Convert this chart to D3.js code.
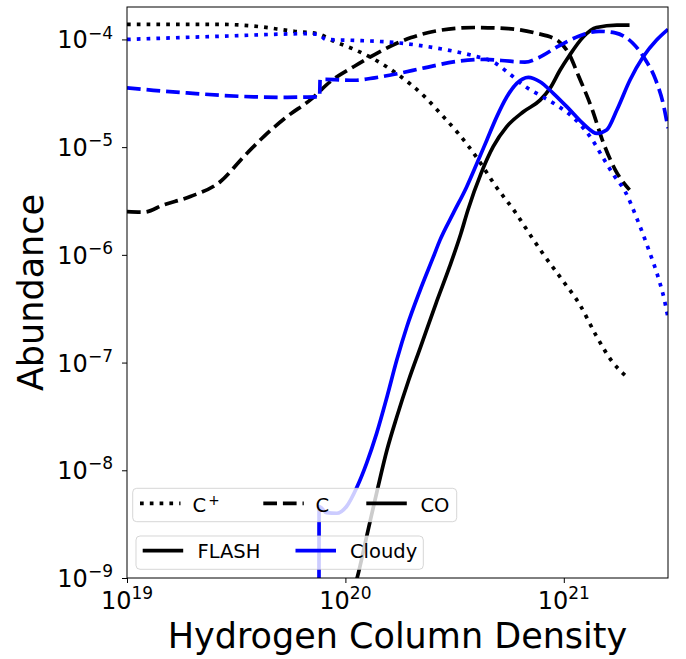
<!DOCTYPE html>
<html><head><meta charset="utf-8">
<script src="https://cdn.jsdelivr.net/npm/d3@7"></script>
<style>body{margin:0;background:#fff}svg{display:block}</style>
</head><body>
<svg id="chart" width="686" height="659"></svg>
<script>
// ---------------- data ----------------
const xDomain = [1e19, 3e21];
const yDomain = [1e-9, 2e-4];
const xMajorTicks = [1e19, 1e20, 1e21];
const xMajorExp = ["19", "20", "21"];
const yMajorTicks = [1e-9, 1e-8, 1e-7, 1e-6, 1e-5, 1e-4];
const yMajorExp = ["\u22129", "\u22128", "\u22127", "\u22126", "\u22125", "\u22124"];

// FLASH  C+
const flashCplusN = [1.0e19, 2.68e19, 3.81e19, 5.82e19, 7.45e19, 8.89e19, 1.10e20, 1.36e20, 1.74e20, 2.30e20, 2.84e20, 3.28e20, 4.06e20, 4.83e20, 5.97e20, 7.13e20, 8.07e20, 9.79e20, 1.19e21, 1.39e21, 1.66e21, 1.93e21];
const flashCplusA = [1.38e-4, 1.38e-4, 1.33e-4, 1.19e-4, 1.13e-4, 9.6e-5, 8.07e-5, 6.52e-5, 4.72e-5, 2.96e-5, 1.87e-5, 1.35e-5, 7.64e-6, 4.47e-6, 2.52e-6, 1.46e-6, 1.01e-6, 5.92e-7, 3.39e-7, 1.86e-7, 1.03e-7, 7.45e-8];
// FLASH  C
const flashCN = [1.0e19, 1.19e19, 1.47e19, 1.95e19, 2.68e19, 3.43e19, 4.24e19, 5.42e19, 6.93e19, 8.57e19, 1.10e20, 1.36e20, 1.74e20, 2.00e20, 2.56e20, 3.91e20, 5.57e20, 7.38e20, 9.46e20, 1.05e21, 1.17e21, 1.35e21, 1.50e21, 1.72e21, 2.00e21];
const flashCA = [2.52e-6, 2.49e-6, 2.91e-6, 3.48e-6, 4.80e-6, 8.19e-6, 1.26e-5, 1.93e-5, 2.76e-5, 4.09e-5, 5.64e-5, 7.24e-5, 9.31e-5, 1.04e-4, 1.19e-4, 1.29e-4, 1.26e-4, 1.15e-4, 9.64e-5, 7.51e-5, 4.55e-5, 2.23e-5, 1.17e-5, 6.16e-6, 4.01e-6];
// FLASH  CO
const flashCON = [1.08e20, 1.13e20, 1.25e20, 1.40e20, 1.55e20, 1.72e20, 1.95e20, 2.21e20, 2.60e20, 3.00e20, 3.38e20, 3.64e20, 4.18e20, 4.75e20, 5.48e20, 6.53e20, 7.79e20, 8.65e20, 9.62e20, 1.05e21, 1.23e21, 1.41e21, 1.75e21, 2.0e21];
const flashCOA = [7.26e-10, 9.9e-10, 2.41e-9, 6.56e-9, 1.54e-8, 3.14e-8, 6.89e-8, 1.40e-7, 3.55e-7, 7.76e-7, 1.58e-6, 2.61e-6, 5.71e-6, 1.01e-5, 1.55e-5, 2.13e-5, 2.73e-5, 3.52e-5, 5.20e-5, 6.87e-5, 1.06e-4, 1.29e-4, 1.36e-4, 1.36e-4];
// Cloudy C+
const cloudyCplusN = [1.0e19, 2.68e19, 6.70e19, 7.59e19, 8.13e19, 1.10e20, 1.74e20, 2.56e20, 3.28e20, 3.91e20, 4.83e20, 5.57e20, 6.64e20, 7.93e20, 9.46e20, 1.13e21, 1.35e21, 1.50e21, 1.69e21, 1.91e21, 2.18e21, 2.45e21, 2.73e21, 2.89e21, 3.0e21];
const cloudyCplusA = [1.0e-4, 1.07e-4, 1.13e-4, 1.11e-4, 1.0e-4, 9.8e-5, 9.3e-5, 8.37e-5, 7.62e-5, 7.0e-5, 6.07e-5, 4.90e-5, 3.67e-5, 2.96e-5, 2.39e-5, 1.80e-5, 1.17e-5, 8.19e-6, 5.53e-6, 3.87e-6, 2.08e-6, 1.11e-6, 5.82e-7, 3.79e-7, 2.6e-7];
// Cloudy C
const cloudyCN = [1.0e19, 1.32e19, 1.88e19, 2.68e19, 3.81e19, 5.42e19, 7.45e19, 7.62e19, 7.66e19, 8.0e19, 1.10e20, 1.36e20, 1.74e20, 2.30e20, 3.28e20, 4.35e20, 5.19e20, 6.64e20, 7.66e20, 9.46e20, 1.17e21, 1.45e21, 1.72e21, 2.06e21, 2.36e21, 2.63e21, 2.87e21, 3.0e21];
const cloudyCA = [3.55e-5, 3.37e-5, 3.19e-5, 3.03e-5, 2.93e-5, 2.90e-5, 2.93e-5, 2.93e-5, 4.25e-5, 4.25e-5, 4.18e-5, 4.40e-5, 4.82e-5, 5.45e-5, 6.28e-5, 6.52e-5, 6.37e-5, 6.15e-5, 6.76e-5, 8.67e-5, 1.07e-4, 1.19e-4, 1.15e-4, 9.31e-5, 6.52e-5, 4.25e-5, 2.39e-5, 1.5e-5];
// Cloudy CO
const cloudyCON = [7.56e19, 7.58e19, 8.20e19, 9.12e19, 1.01e20, 1.13e20, 1.25e20, 1.39e20, 1.55e20, 1.72e20, 1.91e20, 2.20e20, 2.53e20, 2.71e20, 3.12e20, 3.59e20, 3.99e20, 4.44e20, 4.93e20, 5.48e20, 6.09e20, 6.88e20, 7.78e20, 8.95e20, 1.05e21, 1.23e21, 1.42e21, 1.57e21, 1.75e21, 2.01e21, 2.31e21, 2.66e21, 3.0e21];
const cloudyCOA = [1e-11, 4.59e-9, 4.04e-9, 3.99e-9, 4.59e-9, 7.0e-9, 1.16e-8, 2.20e-8, 4.79e-8, 1.06e-7, 2.14e-7, 4.72e-7, 9.62e-7, 1.37e-6, 2.44e-6, 4.27e-6, 6.97e-6, 1.16e-5, 1.91e-5, 2.92e-5, 3.91e-5, 4.45e-5, 4.05e-5, 3.16e-5, 2.29e-5, 1.64e-5, 1.34e-5, 1.44e-5, 2.21e-5, 4.20e-5, 6.90e-5, 9.86e-5, 1.24e-4];

const speciesLabels = ["C", "C", "CO"];
const codeLabels = ["FLASH", "Cloudy"];
const xTitle = "Hydrogen Column Density";
const yTitle = "Abundance";

// ---------------- drawing ----------------
const FONT = "'DejaVu Sans', sans-serif";
const LW = 3.7;
const styles = {
  dotted: `${LW},${(LW * 1.65).toFixed(2)}`,
  dashed: `${(LW * 3.7).toFixed(2)},${(LW * 1.6).toFixed(2)}`,
  solid: null
};
const colors = { FLASH: "#000000", Cloudy: "#0000ff" };

const series = [
  { code: "FLASH", N: flashCplusN, A: flashCplusA, style: "dotted" },
  { code: "FLASH", N: flashCN, A: flashCA, style: "dashed" },
  { code: "FLASH", N: flashCON, A: flashCOA, style: "solid" },
  { code: "Cloudy", N: cloudyCplusN, A: cloudyCplusA, style: "dotted" },
  { code: "Cloudy", N: cloudyCN, A: cloudyCA, style: "dashed" },
  { code: "Cloudy", N: cloudyCON, A: cloudyCOA, style: "solid" }
];

const svg = d3.select("#chart");
const P = { l: 127, r: 668, t: 7, b: 578 };
const x = d3.scaleLog().domain(xDomain).range([P.l, P.r]);
const y = d3.scaleLog().domain(yDomain).range([P.b, P.t]);

svg.append("rect").attr("width", 686).attr("height", 659).attr("fill", "#fff");

svg.append("defs").append("clipPath").attr("id", "clip")
  .append("rect").attr("x", P.l).attr("y", P.t).attr("width", P.r - P.l).attr("height", P.b - P.t);

const line = d3.line().x(d => x(d[0])).y(d => y(d[1])).curve(d3.curveMonotoneX);
const gLines = svg.append("g").attr("clip-path", "url(#clip)");
series.forEach(s => {
  const pts = s.N.map((n, i) => [n, s.A[i]]);
  gLines.append("path").datum(pts)
    .attr("d", line)
    .attr("fill", "none")
    .attr("stroke", colors[s.code])
    .attr("stroke-width", LW)
    .attr("stroke-linecap", "butt")
    .attr("stroke-linejoin", "round")
    .attr("stroke-dasharray", styles[s.style]);
});

// minor ticks
const xMinor = [], yMinor = [];
for (let e = 19; e <= 21; e++) for (let m = 2; m <= 9; m++) { const v = m * Math.pow(10, e); if (v <= xDomain[1] * 1.0001) xMinor.push(v); }
for (let e = -9; e <= -4; e++) for (let m = 2; m <= 9; m++) { const v = m * Math.pow(10, e); if (v < yDomain[1] * 0.999) yMinor.push(v); }

const gx = svg.append("g").attr("transform", `translate(0,${P.b})`);
gx.call(d3.axisBottom(x).tickValues(xMinor).tickSize(3).tickFormat(""));
gx.call(d3.axisBottom(x).tickValues(xMajorTicks).tickSize(5).tickFormat(""));
const gy = svg.append("g").attr("transform", `translate(${P.l},0)`);
gy.call(d3.axisLeft(y).tickValues(yMinor).tickSize(3).tickFormat(""));
gy.call(d3.axisLeft(y).tickValues(yMajorTicks).tickSize(5).tickFormat(""));
svg.selectAll(".domain").remove();
svg.selectAll(".tick line").attr("stroke", "#000").attr("stroke-width", 1);

const TFS = 24;
// x tick labels
xMajorTicks.forEach((v, i) => {
  const t = svg.append("text").attr("x", x(v)).attr("y", P.b + 31.3)
    .attr("text-anchor", "middle").attr("font-family", FONT).attr("font-size", TFS).attr("fill", "#000");
  t.append("tspan").text("10");
  t.append("tspan").attr("font-size", TFS * 0.71).attr("dy", -TFS * 0.41).text(xMajorExp[i]);
});
// y tick labels
yMajorTicks.forEach((v, i) => {
  const t = svg.append("text").attr("x", P.l - 14).attr("y", y(v) + 9)
    .attr("text-anchor", "end").attr("font-family", FONT).attr("font-size", TFS).attr("fill", "#000");
  t.append("tspan").text("10");
  t.append("tspan").attr("font-size", TFS * 0.71).attr("dy", -TFS * 0.41).text(yMajorExp[i]);
});

// frame
svg.append("rect").attr("x", P.l).attr("y", P.t).attr("width", P.r - P.l).attr("height", P.b - P.t)
  .attr("fill", "none").attr("stroke", "#000").attr("stroke-width", 1);

// axis titles
svg.append("text").attr("x", (P.l + P.r) / 2).attr("y", 648)
  .attr("text-anchor", "middle").attr("font-family", FONT).attr("font-size", 35).text(xTitle);
svg.append("text").attr("transform", `translate(43,${(P.t + P.b) / 2}) rotate(-90)`)
  .attr("text-anchor", "middle").attr("font-family", FONT).attr("font-size", 35).text(yTitle);

// legends
const LFS = 19.5;
function legendBox(x0, y0, w, h) {
  svg.append("rect").attr("x", x0).attr("y", y0).attr("width", w).attr("height", h)
    .attr("rx", 4).attr("ry", 4)
    .attr("fill", "#fff").attr("fill-opacity", 0.8)
    .attr("stroke", "#cccccc").attr("stroke-opacity", 0.8).attr("stroke-width", 1);
}
// species legend
legendBox(132.7, 488.3, 324, 33.4);
const spStyles = ["dotted", "dashed", "solid"];
const spLineX = [140, 263.3, 366.3];
const spTextX = [192.5, 315.5, 420.5];
spStyles.forEach((st, i) => {
  svg.append("line").attr("x1", spLineX[i]).attr("x2", spLineX[i] + 40.5)
    .attr("y1", 503.3).attr("y2", 503.3)
    .attr("stroke", "#000").attr("stroke-width", LW).attr("stroke-dasharray", styles[st]);
  const t = svg.append("text").attr("x", spTextX[i]).attr("y", 511.5)
    .attr("font-family", FONT).attr("font-size", LFS).attr("fill", "#000");
  t.append("tspan").text(speciesLabels[i]);
  if (i === 0) t.append("tspan").attr("dx", 2).attr("dy", -7).attr("font-size", LFS * 0.7).text("+");
});
// code legend
legendBox(136, 536, 287.3, 33.3);
const cdLineX = [142.7, 295.5];
const cdTextX = [197.5, 350];
codeLabels.forEach((c, i) => {
  svg.append("line").attr("x1", cdLineX[i]).attr("x2", cdLineX[i] + 40.5)
    .attr("y1", 550.7).attr("y2", 550.7)
    .attr("stroke", colors[c]).attr("stroke-width", LW);
  svg.append("text").attr("x", cdTextX[i]).attr("y", 558.3)
    .attr("font-family", FONT).attr("font-size", LFS).attr("fill", "#000").text(c);
});
</script>
</body></html>
